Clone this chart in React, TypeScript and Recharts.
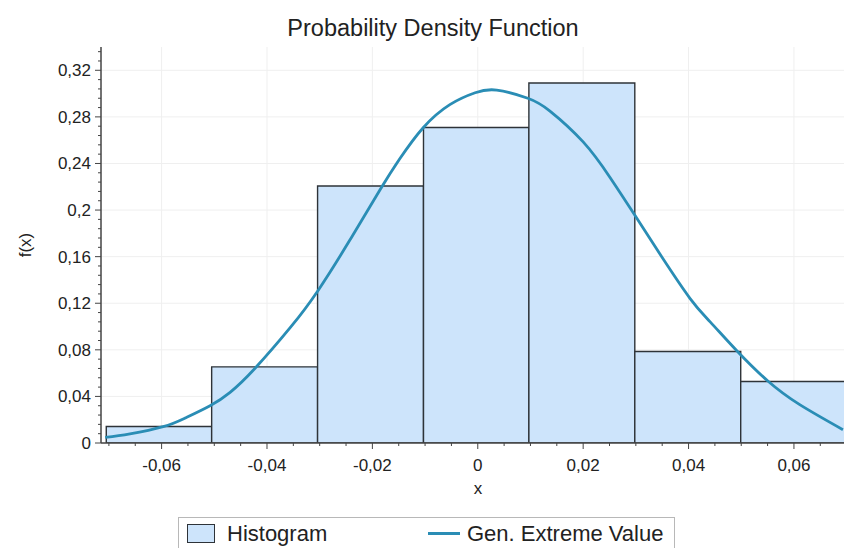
import React from 'react';
import {
  ComposedChart,
  Line,
  XAxis,
  YAxis,
  ReferenceArea,
  CartesianGrid,
  Legend,
  Label,
} from 'recharts';

// ---- Data ----
const BIN_EDGES = [-0.0705, -0.0505, -0.0304, -0.0103, 0.0097, 0.0298, 0.0499, 0.07];
const BIN_DENSITY = [0.0142, 0.0654, 0.2207, 0.2709, 0.3091, 0.0785, 0.0528];

const CURVE_X = [
  -0.0707, -0.066, -0.0597, -0.0555, -0.0508, -0.047, -0.0423, -0.0356, -0.0303, -0.0243,
  -0.0186, -0.0148, -0.0104, -0.0053, -0.0005, 0.0036, 0.0095, 0.0137, 0.02, 0.0251,
  0.0296, 0.0346, 0.0403, 0.0441, 0.0492, 0.0551, 0.0611, 0.0693,
];
const CURVE_Y = [
  0.0048, 0.0078, 0.014, 0.0215, 0.032, 0.0435, 0.064, 0.099, 0.131, 0.174,
  0.217, 0.244, 0.2705, 0.2905, 0.3007, 0.303, 0.296, 0.285, 0.2585, 0.228,
  0.197, 0.162, 0.124, 0.104, 0.079, 0.053, 0.0329, 0.0114,
];

const X_MAJOR = [-0.06, -0.04, -0.02, 0, 0.02, 0.04, 0.06];
const Y_MAJOR = [0, 0.04, 0.08, 0.12, 0.16, 0.2, 0.24, 0.28, 0.32];
const X_DOMAIN: [number, number] = [-0.0715, 0.0695];
const Y_DOMAIN: [number, number] = [0, 0.34];
const X_MINOR_STEP = 0.005;
const Y_MINOR_STEP = 0.008;
const X_MAJOR_STEP = 0.02;
const Y_MAJOR_STEP = 0.04;

// ---- Styling ----
const FONT = '"Liberation Sans", Arial, Helvetica, sans-serif';
const BAR_FILL = '#cde4fb';
const BAR_STROKE = '#2e3338';
const LINE_COLOR = '#2a8db5';
const AXIS_COLOR = '#444';
const TEXT_COLOR = '#222';

function makeTicks(lo: number, hi: number, step: number) {
  const out: number[] = [];
  const n0 = Math.ceil(lo / step - 1e-9);
  const n1 = Math.floor(hi / step + 1e-9);
  for (let i = n0; i <= n1; i++) out.push(Number((i * step).toFixed(4)));
  return out;
}
const X_TICKS = makeTicks(X_DOMAIN[0], X_DOMAIN[1], X_MINOR_STEP);
const Y_TICKS = makeTicks(Y_DOMAIN[0], Y_DOMAIN[1] - 0.001, Y_MINOR_STEP);

const isMajor = (v: number, step: number) => Math.abs(v / step - Math.round(v / step)) < 1e-6;
const fmt = (v: number) => (Math.abs(v) < 1e-9 ? '0' : String(Number(v.toFixed(3))).replace('.', ','));

const curveData = CURVE_X.map((x, i) => ({ x, y: CURVE_Y[i] }));
const bins = BIN_DENSITY.map((h, i) => ({ x1: BIN_EDGES[i], x2: BIN_EDGES[i + 1], h }));

const XTick = (props: any) => {
  const { x, y, payload } = props;
  const major = isMajor(payload.value, X_MAJOR_STEP);
  return (
    <g>
      <line x1={x} x2={x} y1={y} y2={y + (major ? 6 : 3)} stroke={AXIS_COLOR} strokeWidth={1} />
      {major && (
        <text x={x} y={y + 28} textAnchor="middle" fontSize={17} fontFamily={FONT} fill={TEXT_COLOR}>
          {fmt(payload.value)}
        </text>
      )}
    </g>
  );
};

const YTick = (props: any) => {
  const { x, y, payload } = props;
  const major = isMajor(payload.value, Y_MAJOR_STEP);
  return (
    <g>
      <line x1={x} x2={x - (major ? 6 : 3)} y1={y} y2={y} stroke={AXIS_COLOR} strokeWidth={1} />
      {major && (
        <text x={x - 10} y={y + 6} textAnchor="end" fontSize={17} fontFamily={FONT} fill={TEXT_COLOR}>
          {fmt(payload.value)}
        </text>
      )}
    </g>
  );
};

const LegendBox = () => (
  <div
    style={{
      position: 'relative',
      width: 497,
      height: 40,
      border: '1px solid #b8b8b8',
      boxSizing: 'border-box',
      background: '#fff',
      fontFamily: FONT,
      fontSize: 22,
      color: TEXT_COLOR,
    }}
  >
    <div
      style={{
        position: 'absolute',
        left: 8,
        top: 6,
        width: 28,
        height: 19,
        background: BAR_FILL,
        border: `1.5px solid ${BAR_STROKE}`,
        boxSizing: 'border-box',
      }}
    />
    <span style={{ position: 'absolute', left: 48, top: 5, lineHeight: '22px', whiteSpace: 'nowrap' }}>Histogram</span>
    <div style={{ position: 'absolute', left: 249, top: 14, width: 32, height: 3, background: LINE_COLOR }} />
    <span style={{ position: 'absolute', left: 288, top: 5, lineHeight: '22px', whiteSpace: 'nowrap' }}>
      Gen. Extreme Value
    </span>
  </div>
);

export default function App() {
  return (
    <div
      style={{
        position: 'absolute',
        left: 0,
        top: 0,
        width: 844,
        height: 548,
        overflow: 'hidden',
        background: '#fff',
        fontFamily: FONT,
      }}
    >
      <div
        style={{
          position: 'absolute',
          left: 433,
          top: 16,
          transform: 'translateX(-50%)',
          fontSize: 23.5,
          lineHeight: '24px',
          color: TEXT_COLOR,
          whiteSpace: 'nowrap',
          zIndex: 2,
        }}
      >
        Probability Density Function
      </div>
      <ComposedChart width={844} height={548} data={curveData} margin={{ top: 47, right: 0, bottom: 0, left: 0 }}>
        <CartesianGrid verticalValues={X_MAJOR} horizontalValues={Y_MAJOR} stroke="#efefef" />
        <XAxis
          xAxisId="top"
          orientation="top"
          type="number"
          domain={X_DOMAIN}
          allowDataOverflow
          height={0}
          tick={false}
          tickLine={false}
          axisLine={{ stroke: AXIS_COLOR, strokeWidth: 1.5 }}
        />
        <XAxis
          dataKey="x"
          type="number"
          domain={X_DOMAIN}
          allowDataOverflow
          ticks={X_TICKS}
          interval={0}
          tickSize={0}
          tickMargin={0}
          tickLine={false}
          tick={XTick}
          height={105}
          axisLine={{ stroke: AXIS_COLOR, strokeWidth: 1.5 }}
        >
          <Label
            content={(p: any) => {
              const vb = p.viewBox || {};
              return (
                <text x={478} y={vb.y + 51} textAnchor="middle" fontSize={17} fontFamily={FONT} fill={TEXT_COLOR}>
                  x
                </text>
              );
            }}
          />
        </XAxis>
        <YAxis
          type="number"
          domain={Y_DOMAIN}
          allowDataOverflow
          ticks={Y_TICKS}
          interval={0}
          tickSize={0}
          tickMargin={0}
          tickLine={false}
          tick={YTick}
          width={101}
          axisLine={{ stroke: AXIS_COLOR, strokeWidth: 1.5 }}
        >
          <Label
            content={(p: any) => {
              const vb = p.viewBox || {};
              const cy = vb.y + vb.height / 2;
              return (
                <text
                  x={31}
                  y={cy}
                  transform={`rotate(-90 31 ${cy})`}
                  textAnchor="middle"
                  fontSize={17}
                  fontFamily={FONT}
                  fill={TEXT_COLOR}
                >
                  f(x)
                </text>
              );
            }}
          />
        </YAxis>
        {bins.map((b, i) => (
          <ReferenceArea
            key={i}
            x1={b.x1}
            x2={b.x2}
            y1={0}
            y2={b.h}
            fill={BAR_FILL}
            fillOpacity={1}
            stroke={BAR_STROKE}
            strokeWidth={1.4}
            ifOverflow="hidden"
          />
        ))}
        <Line
          dataKey="y"
          type="natural"
          stroke={LINE_COLOR}
          strokeWidth={2.8}
          dot={false}
          activeDot={false}
          isAnimationActive={false}
        />
        <Legend
          content={LegendBox}
          wrapperStyle={{ position: 'absolute', left: 178, top: 517, width: 497, height: 0, bottom: 'auto', right: 'auto' }}
        />
      </ComposedChart>
    </div>
  );
}
